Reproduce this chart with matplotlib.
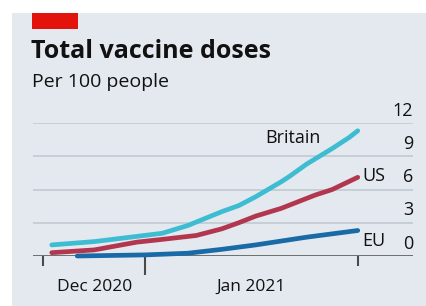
"""
Total vaccine doses per 100 people - Britain, US, EU (Dec 2020 - Jan 2021)
"""

import matplotlib
matplotlib.use("Agg")
import matplotlib.pyplot as plt
import matplotlib.dates as mdates
from matplotlib.patches import Rectangle

# ── Dados ─────────────────────────────────────────────────────────────────────

BRITAIN_DATES = ["2020-12-21", "2020-12-26", "2021-01-03", "2021-01-06", "2021-01-10",
                 "2021-01-12", "2021-01-14", "2021-01-17", "2021-01-18", "2021-01-20",
                 "2021-01-23", "2021-01-25", "2021-01-26"]
BRITAIN = [1.0, 1.3, 2.05, 2.75, 4.0, 4.55, 5.35, 6.7, 7.2, 8.3, 9.7, 10.7, 11.3]

US_DATES = ["2020-12-21", "2020-12-26", "2020-12-31", "2021-01-03", "2021-01-07",
            "2021-01-10", "2021-01-12", "2021-01-14", "2021-01-17", "2021-01-20",
            "2021-01-21", "2021-01-23", "2021-01-26"]
US = [0.3, 0.55, 1.25, 1.5, 1.85, 2.45, 3.0, 3.6, 4.3, 5.2, 5.5, 6.0, 7.1]

EU_DATES = ["2020-12-24", "2021-01-01", "2021-01-06", "2021-01-10", "2021-01-14",
            "2021-01-20", "2021-01-26"]
EU = [0.0, 0.1, 0.25, 0.6, 1.0, 1.7, 2.3]

Y_TICKS = [0, 3, 6, 9, 12]
MONTH_LABELS = [("2020-12-26", "Dec 2020"), ("2021-01-13 12:00", "Jan 2021")]
MAJOR_TICKS = ["2021-01-01"]
MINOR_TICKS = ["2020-12-20", "2021-01-26"]
X_RANGE = ("2020-12-18 19:00", "2021-02-01 12:00")

# ── Estilo ────────────────────────────────────────────────────────────────────

BG      = "#e3e9ef"
GRID    = "#c6ced6"
AXIS    = "#4a4a4a"
FG      = "#111111"
RED_TAG = "#e3120b"
C_GB    = "#3ebcd2"
C_US    = "#b2374e"
C_EU    = "#1a6aa8"

plt.rcParams["font.family"] = ["Open Sans", "DejaVu Sans"]


def d(s):
    return mdates.datestr2num(s)


fig = plt.figure(figsize=(4.26, 3.06), dpi=100)
fig.patch.set_facecolor("white")
fig.patches.append(Rectangle((12 / 426, 0), 1, 1 - 13 / 306, transform=fig.transFigure,
                             facecolor=BG, edgecolor="none", zorder=-2))
fig.patches.append(Rectangle((32 / 426, 1 - 29 / 306), 46 / 426, 16 / 306,
                             transform=fig.transFigure, facecolor=RED_TAG,
                             edgecolor="none", zorder=-1))

fig.text(31 / 426, 1 - 58 / 306, "Total vaccine doses", fontsize=18,
         fontweight="bold", color=FG, va="baseline")
fig.text(32 / 426, 1 - 87 / 306, "Per 100 people", fontsize=14,
         color=FG, va="baseline")

ax = fig.add_axes([33 / 426, 1 - 256 / 306, 380 / 426, 133 / 306])
ax.set_zorder(2)
ax.set_facecolor("none")
for s in ax.spines.values():
    s.set_visible(False)

ax.set_xlim(d(X_RANGE[0]), d(X_RANGE[1]))
ax.set_ylim(0, 12)

for v in Y_TICKS:
    if v > 0:
        ax.axhline(v, color=GRID, lw=1.4, zorder=1)
    ax.annotate(str(v), (1, v), xycoords=("axes fraction", "data"),
                xytext=(0, 2.5), textcoords="offset points",
                ha="right", va="bottom", fontsize=13, color=FG)
ax.axhline(0, color=AXIS, lw=1.8, zorder=2)

kw = dict(lw=3.4, solid_capstyle="round", solid_joinstyle="round", zorder=3, clip_on=False)
ax.plot([d(x) for x in EU_DATES], EU, color=C_EU, **kw)
ax.plot([d(x) for x in US_DATES], US, color=C_US, **kw)
ax.plot([d(x) for x in BRITAIN_DATES], BRITAIN, color=C_GB, **kw)

ax.text(d("2021-01-21 14:00"), 10.65, "Britain", ha="right", va="center",
        fontsize=13, color=FG)
ax.text(d("2021-01-26 12:00"), 7.25, "US", ha="left", va="center",
        fontsize=13, color=FG)
ax.text(d("2021-01-26 12:00"), 1.35, "EU", ha="left", va="center",
        fontsize=13, color=FG)

ax.set_yticks([])
ax.set_xticks([d(x) for x in MAJOR_TICKS])
ax.set_xticks([d(x) for x in MINOR_TICKS], minor=True)
ax.tick_params(axis="x", which="major", length=14, width=1.5, color=AXIS,
               labelbottom=False)
ax.tick_params(axis="x", which="minor", length=7, width=1.5, color=AXIS)

for x, label in MONTH_LABELS:
    ax.annotate(label, (d(x), 0), xycoords="data", xytext=(0, -22),
                textcoords="offset points", ha="center", va="center",
                fontsize=12.5, color=FG, annotation_clip=False)

fig.savefig("out.png", dpi=100)
